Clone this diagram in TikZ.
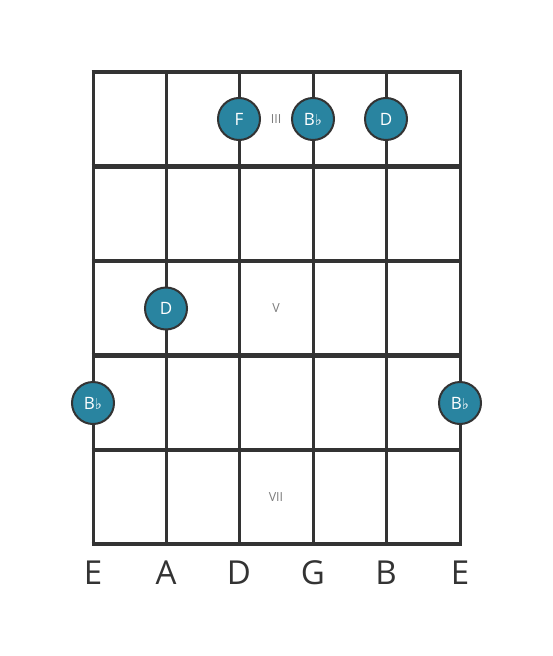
\documentclass[tikz,border=0pt]{standalone}
\usepackage{fontspec}
\setmainfont{Open Sans}
\newfontfamily\symfont{DejaVu Sans}
\definecolor{dotfill}{RGB}{41,132,160}
\definecolor{linec}{RGB}{51,51,51}
\definecolor{numc}{RGB}{125,125,125}
\begin{document}
\begin{tikzpicture}[x=1pt,y=-1pt,
  fretline/.style={draw=linec,line width=4.4pt},
  stringline/.style={draw=linec,line width=3pt},
  notedot/.style={circle,fill=dotfill,draw=linec,line width=2pt,minimum size=42pt,inner sep=0pt,text=white,font=\fontsize{17}{17}\selectfont},
  fretnum/.style={text=numc,font=\fontsize{12.5}{12.5}\selectfont,inner sep=0pt},
  strname/.style={text=linec,font=\fontsize{33}{33}\selectfont,inner sep=0pt}]
\useasboundingbox (0,0) rectangle (553,656);
% strings
\foreach \x/\n in {93/s1,166/s2,239/s3,313/s4,386/s5,460/s6}{
  \coordinate (\n t) at (\x,72);
  \coordinate (\n b) at (\x,544);
  \draw[stringline] (\n t) -- (\n b);
}
% frets
\foreach \y/\n in {72/f0,166.5/f1,261/f2,355.5/f3,450/f4,544/f5}{
  \coordinate (\n l) at (91.5,\y);
  \coordinate (\n r) at (461.5,\y);
  \draw[fretline] (\n l) -- (\n r);
}
% fret numbers
\node[fretnum] (n3) at (276,119) {III};
\node[fretnum] (n5) at (276,308.5) {V};
\node[fretnum] (n7) at (276,497) {VII};
% dots
\node[notedot] (d1) at (239,119) {F};
\node[notedot] (d2) at (313,119) {B{\symfont\fontsize{15}{15}\selectfont ♭}};
\node[notedot] (d3) at (386,119) {D};
\node[notedot] (d4) at (166,308.5) {D};
\node[notedot] (d5) at (93,403) {B{\symfont\fontsize{15}{15}\selectfont ♭}};
\node[notedot] (d6) at (460,403) {B{\symfont\fontsize{15}{15}\selectfont ♭}};
% string names
\foreach \x/\t/\n in {93/E/l1,166/A/l2,239/D/l3,313/G/l4,386/B/l5,460/E/l6}{
  \node[strname] (\n) at (\x,573) {\t};
}
\end{tikzpicture}
\end{document}
